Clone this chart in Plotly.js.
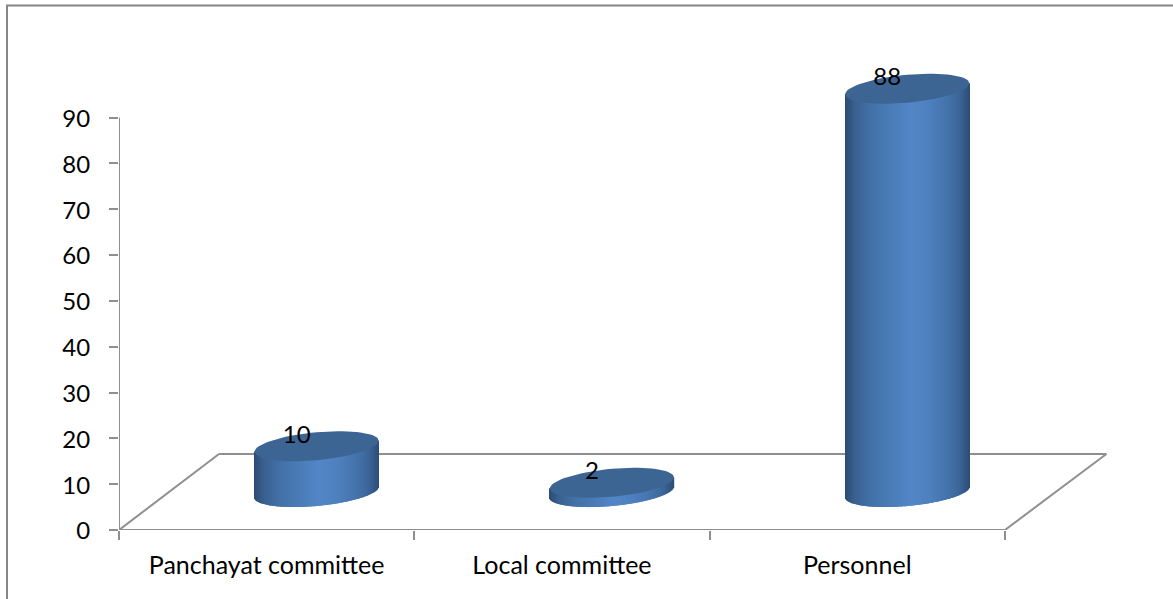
<!DOCTYPE html>
<html>
<head>
<meta charset="utf-8">
<script src="https://cdn.plot.ly/plotly-3.0.1.min.js"></script>
<style>html,body{margin:0;padding:0;background:#fff}#chart{width:1173px;height:599px}</style>
</head>
<body>
<div id="chart"></div>
<script>
var categories = ["Panchayat committee", "Local committee", "Personnel"];
var values = [10, 2, 88];
var yTicks = [0, 10, 20, 30, 40, 50, 60, 70, 80, 90];

var W = 1173, H = 599;
var margin = {l: 119, r: 66, t: 60, b: 69, pad: 0};
var pxPerCat = 295.3, pxPerUnit = 412.5 / 90;
var plotW = W - margin.l - margin.r, plotH = H - margin.t - margin.b;
var xMin = -0.5, xMax = xMin + plotW / pxPerCat, yMax = plotH / pxPerUnit;

// 3D look, in screen pixels
var depthX = 100, depthY = 76;        // floor depth
var offX = 50, offY = 38;             // cylinder foot in the floor
var rx = 62, ry = 14, skew = 5.5;     // ellipse of the cylinder
var lineColor = "#8f8f8f", textColor = "#000000", topColor = "#3d6594", frameColor = "#868686";
var stops = [[-1,"#2c4a72"],[-0.85,"#38608f"],[-0.6,"#4270a6"],[-0.25,"#4a7cb8"],[0.05,"#5386c8"],[0.35,"#4e80bf"],[0.65,"#4473ab"],[0.85,"#3b6597"],[1,"#2e4e76"]];

function hex(c){return [1,3,5].map(function(i){return parseInt(c.substr(i,2),16);});}
function gradient(u){
  for (var i=1;i<stops.length;i++){
    if (u<=stops[i][0]){
      var f=(u-stops[i-1][0])/(stops[i][0]-stops[i-1][0]), a=hex(stops[i-1][1]), b=hex(stops[i][1]);
      return "rgb("+a.map(function(v,k){return Math.round(v+(b[k]-v)*f);}).join(",")+")";
    }
  }
  return stops[stops.length-1][1];
}

var footY = offY / pxPerUnit;
var sx=[], sy=[], sb=[], sc=[], sw=[], ex=[], ey=[], lx=[], ly=[];
values.forEach(function(v,i){
  var cx = i + offX / pxPerCat;
  for (var k=0;k<2*rx;k++){
    var dx = k + 0.5 - rx, u = dx / rx, r = Math.sqrt(1-u*u);
    var base = footY + (skew*u - ry*r) / pxPerUnit;
    sx.push(cx + dx / pxPerCat);
    sb.push(base);
    sy.push(v + ry*r / pxPerUnit);
    sc.push(gradient(u));
    sw.push(1.5 / pxPerCat);
  }
  for (var t=0;t<=360;t+=5){
    var a = t*Math.PI/180;
    ex.push(cx + rx*Math.cos(a)/pxPerCat);
    ey.push(footY + v + (skew*Math.cos(a) + ry*Math.sin(a))/pxPerUnit);
  }
  ex.push(null); ey.push(null);
  lx.push(cx - 20/pxPerCat);
  ly.push(footY + v + 9.5/pxPerUnit);
});

var traces = [
  {type:"bar", x:sx, y:sy, base:sb, width:sw, marker:{color:sc, line:{width:0}}, hoverinfo:"skip", showlegend:false},
  {type:"scatter", mode:"lines", x:ex, y:ey, fill:"toself", fillcolor:topColor, line:{width:0, color:topColor}, hoverinfo:"skip", showlegend:false},
  {type:"scatter", mode:"text", x:lx, y:ly, text:values.map(String), textposition:"middle center",
   textfont:{family:"Lato, Carlito, sans-serif", size:24, color:textColor}, cliponaxis:false, hoverinfo:"skip", showlegend:false}
];

var fx = depthX/pxPerCat, fy = depthY/pxPerUnit, xEnd = xMin + categories.length;
function lineShape(x0,y0,x1,y1){
  return {type:"line", xref:"x", yref:"y", x0:x0, y0:y0, x1:x1, y1:y1, layer:"below", line:{color:lineColor, width:2}};
}
function px2x(p){return (p-margin.l)/plotW;}
function px2y(p){return (H-margin.b-p)/plotH;}
var shapes = [
  lineShape(xMin,0,xMin+fx,fy),
  lineShape(xMin+fx,fy,xEnd+(depthX+1.5)/pxPerCat,fy),
  lineShape(xEnd+(depthX+1.5)/pxPerCat,fy,xEnd,0),
  lineShape(xMin,0,xEnd,0),
  lineShape(xMin,0,xMin,yTicks[yTicks.length-1]),
  {type:"line", xref:"paper", yref:"paper", x0:px2x(7), x1:px2x(7), y0:px2y(H), y1:px2y(5), line:{color:frameColor, width:2}},
  {type:"line", xref:"paper", yref:"paper", x0:px2x(6), x1:px2x(W), y0:px2y(5.5), y1:px2y(5.5), line:{color:frameColor, width:2}}
];

var layout = {
  width:W, height:H, margin:margin, paper_bgcolor:"#fff", plot_bgcolor:"rgba(0,0,0,0)",
  barmode:"overlay", showlegend:false, shapes:shapes, hovermode:false,
  font:{family:"Lato, Carlito, sans-serif", color:textColor},
  xaxis:{range:[xMin,xMax], tickmode:"array", tickvals:categories.map(function(c,i){return i;}), ticktext:categories,
    ticks:"", ticklen:0, ticklabelstandoff:18, tickfont:{size:25, color:textColor}, showgrid:false, zeroline:false, showline:false,
    minor:{tickmode:"array", tickvals:[-0.5,0.5,1.5,2.5], ticks:"outside", ticklen:9, tickwidth:2, tickcolor:lineColor, showgrid:false}},
  yaxis:{range:[0,yMax], tickmode:"array", tickvals:yTicks, ticks:"outside", ticklen:9, tickwidth:2, tickcolor:lineColor,
    ticklabelstandoff:14, ticklabelshift:1, tickfont:{size:24, color:textColor}, showgrid:false, zeroline:false, showline:false}
};
Plotly.newPlot("chart", traces, layout, {displayModeBar:false, responsive:false});
</script>
</body>
</html>
